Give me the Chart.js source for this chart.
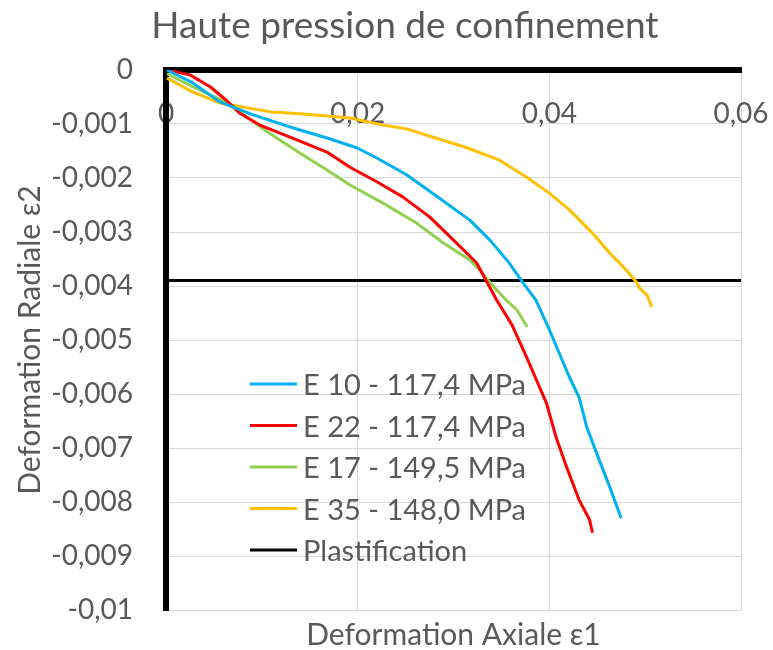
<!DOCTYPE html>
<html>
<head>
<meta charset="utf-8">
<title>Haute pression de confinement</title>
<script src="https://cdn.jsdelivr.net/npm/chart.js@4.4.1/dist/chart.umd.min.js"></script>
<style>
  html, body { margin: 0; padding: 0; background: #ffffff; }
  #wrap { width: 773px; height: 650px; position: relative; }
</style>
</head>
<body>
<div id="wrap"><canvas id="chart"></canvas></div>
<script>
// Axial strain (x) and radial strain (y) for each test
const e10X = [0.0001, 0.0028, 0.0056, 0.0091, 0.0132, 0.0168, 0.0199, 0.0220, 0.0251, 0.0285, 0.0317, 0.0338, 0.0358, 0.0372, 0.0386, 0.0400, 0.0421, 0.0431, 0.0439, 0.0452, 0.0463, 0.0475];
const e10Y = [0, -0.00024, -0.00059, -0.00083, -0.00107, -0.00126, -0.00144, -0.00163, -0.00194, -0.00237, -0.00278, -0.00315, -0.00357, -0.00393, -0.00426, -0.00481, -0.00569, -0.00606, -0.00661, -0.00722, -0.00772, -0.00830];

const e22X = [0.0001, 0.0025, 0.0046, 0.0063, 0.0077, 0.0098, 0.0132, 0.0168, 0.0192, 0.0220, 0.0247, 0.0275, 0.0303, 0.0324, 0.0335, 0.0345, 0.0361, 0.0376, 0.0397, 0.0407, 0.0418, 0.0431, 0.0442, 0.0445];
const e22Y = [0, -0.00009, -0.00031, -0.00056, -0.00080, -0.00102, -0.00126, -0.00152, -0.00180, -0.00207, -0.00235, -0.00272, -0.00320, -0.00357, -0.00393, -0.00426, -0.00472, -0.00531, -0.00617, -0.00680, -0.00735, -0.00796, -0.00833, -0.00857];

const e17X = [0.0001, 0.0035, 0.0064, 0.0084, 0.0108, 0.0140, 0.0168, 0.0192, 0.0226, 0.0261, 0.0289, 0.0317, 0.0330, 0.0338, 0.0355, 0.0366, 0.0377];
const e17Y = [-0.00007, -0.00037, -0.00061, -0.00087, -0.00117, -0.00154, -0.00185, -0.00213, -0.00246, -0.00283, -0.00320, -0.00352, -0.00376, -0.00394, -0.00426, -0.00444, -0.00476];

const e35X = [0.0001, 0.0028, 0.0056, 0.0084, 0.0111, 0.0140, 0.0168, 0.0192, 0.0226, 0.0251, 0.0278, 0.0314, 0.0348, 0.0376, 0.0400, 0.0421, 0.0445, 0.0463, 0.0480, 0.0491, 0.0494, 0.0502, 0.0507];
const e35Y = [-0.00015, -0.00041, -0.00061, -0.00070, -0.00078, -0.00081, -0.00085, -0.00089, -0.00102, -0.00109, -0.00124, -0.00144, -0.00167, -0.00198, -0.00228, -0.00259, -0.00302, -0.00339, -0.00370, -0.00393, -0.00404, -0.00417, -0.00439];

// Yield threshold, drawn across the whole axial range
const plastificationX = [0, 0.06];
const plastificationY = [-0.0039, -0.0039];

const seriesLabels = ['E 10 - 117,4 MPa', 'E 22 - 117,4 MPa', 'E 17 - 149,5 MPa', 'E 35 - 148,0 MPa', 'Plastification'];
const seriesColors = ['#00B0F0', '#FF0000', '#92D050', '#FFC000', '#000000'];

const xTicks = [0, 0.02, 0.04, 0.06];
const yTicks = [0, -0.001, -0.002, -0.003, -0.004, -0.005, -0.006, -0.007, -0.008, -0.009, -0.01];

const TEXT = '#595959';
const GRID = '#d9d9d9';
const FONT = 'Lato';

function zip(xs, ys) {
  return xs.map((x, i) => ({ x: x, y: ys[i] }));
}

// Decimal comma, as in the French locale
function frenchNumber(v) {
  const r = parseFloat(v.toFixed(6));
  return r === 0 ? '0' : String(r).replace('.', ',');
}

const seriesData = [
  zip(e10X, e10Y),
  zip(e22X, e22Y),
  zip(e17X, e17Y),
  zip(e35X, e35Y),
  zip(plastificationX, plastificationY)
];

// Legend drawn inside the plot area, lower left
const insideLegend = {
  id: 'insideLegend',
  afterDatasetsDraw(chart, args, opts) {
    const { ctx, chartArea } = chart;
    ctx.save();
    ctx.font = opts.size + 'px ' + FONT;
    ctx.textBaseline = 'middle';
    ctx.textAlign = 'left';
    chart.data.datasets.forEach((ds, i) => {
      const x = chartArea.left + opts.left;
      const y = chartArea.top + opts.top + i * opts.rowGap;
      ctx.strokeStyle = ds.borderColor;
      ctx.lineWidth = 3;
      ctx.beginPath();
      ctx.moveTo(x, y);
      ctx.lineTo(x + opts.sample, y);
      ctx.stroke();
      ctx.fillStyle = TEXT;
      ctx.fillText(ds.label, x + opts.sample + 6, y + 2);
    });
    ctx.restore();
  }
};

Chart.defaults.font.family = FONT;
Chart.defaults.color = TEXT;

const PLOT_RIGHT_GAP = 32;

new Chart(document.getElementById('chart'), {
  type: 'scatter',
  data: {
    datasets: seriesData.map((pts, i) => ({
      label: seriesLabels[i],
      data: pts,
      showLine: true,
      borderColor: seriesColors[i],
      backgroundColor: seriesColors[i],
      borderWidth: 3,
      pointRadius: 0,
      pointHoverRadius: 0,
      tension: 0,
      borderJoinStyle: 'round'
    }))
  },
  options: {
    responsive: true,
    maintainAspectRatio: false,
    animation: false,
    devicePixelRatio: 1,
    // the negative right padding widens the title box so the title sits
    // a little right of the canvas centre; the plot margin comes from the x scale
    layout: { padding: { left: 0, right: -37, top: 0, bottom: 0 } },
    scales: {
      x: {
        type: 'linear',
        position: { y: 0 },
        min: 0,
        max: 0.06,
        afterBuildTicks: (scale) => { scale.ticks = xTicks.map(v => ({ value: v })); },
        ticks: {
          callback: (v) => frenchNumber(v),
          font: { size: 28 },
          color: TEXT,
          padding: 27,
          maxRotation: 0,
          autoSkip: false
        },
        grid: {
          color: (c) => (c.tick && c.tick.value === 0 ? 'rgba(0,0,0,0)' : GRID),
          lineWidth: 1,
          drawTicks: false
        },
        border: { color: '#000000', width: 6 },
        afterFit: (scale) => { scale.paddingLeft = 0; scale.paddingRight = PLOT_RIGHT_GAP; }
      },
      x2: {
        type: 'linear',
        axis: 'x',
        position: 'bottom',
        ticks: { display: false },
        grid: { display: false },
        border: { display: false },
        title: {
          display: true,
          text: 'Deformation Axiale ε1',
          color: TEXT,
          font: { size: 30, lineHeight: 1 },
          padding: { top: 0, bottom: 0 }
        },
        afterFit: (scale) => { scale.height = 40; scale.paddingLeft = 0; scale.paddingRight = PLOT_RIGHT_GAP; }
      },
      y: {
        type: 'linear',
        position: 'left',
        min: -0.01,
        max: 0,
        afterBuildTicks: (scale) => { scale.ticks = yTicks.map(v => ({ value: v })); },
        ticks: {
          callback: (v) => frenchNumber(v),
          font: { size: 28 },
          color: TEXT,
          padding: 33,
          autoSkip: false
        },
        grid: {
          color: (c) => (c.tick && c.tick.value === 0 ? 'rgba(0,0,0,0)' : GRID),
          lineWidth: 1,
          drawTicks: false
        },
        border: { color: '#000000', width: 6 },
        title: {
          display: true,
          text: 'Deformation Radiale ε2',
          color: TEXT,
          font: { size: 30, lineHeight: 1 },
          padding: { top: 15, bottom: 0 }
        },
        afterFit: (scale) => {
          scale.width = 166;
          scale.paddingTop = 0;
          scale.paddingBottom = 0;
        }
      }
    },
    plugins: {
      title: {
        display: true,
        text: 'Haute pression de confinement',
        color: TEXT,
        font: { size: 37, weight: 'normal', lineHeight: 1.2 },
        padding: { top: 4, bottom: 21.6 }
      },
      legend: { display: false },
      tooltip: { enabled: false },
      insideLegend: { left: 84, top: 314, rowGap: 41.5, sample: 47, size: 29 }
    }
  },
  plugins: [insideLegend]
});
</script>
</body>
</html>
